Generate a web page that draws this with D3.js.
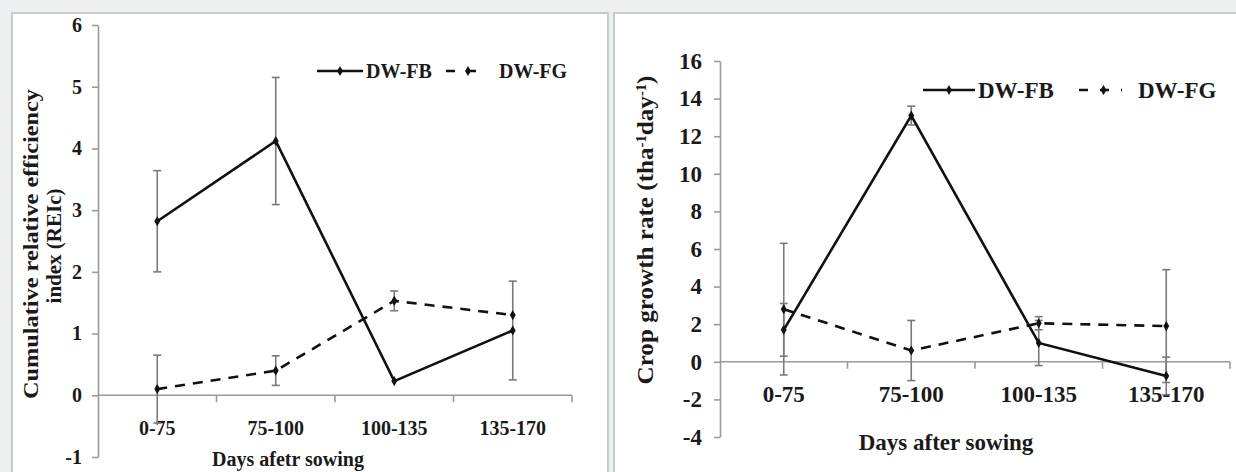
<!DOCTYPE html>
<html>
<head>
<meta charset="utf-8">
<script src="https://cdn.jsdelivr.net/npm/d3@7"></script>
<style>
  html, body { margin: 0; padding: 0; background: #edf0f3; }
  svg { display: block; }
  text { font-family: "Times New Roman", "Liberation Serif", serif; font-weight: bold; fill: #1a1a1a; }
</style>
</head>
<body>
<svg id="chart" width="1236" height="472"></svg>
<script>
// categories (days after sowing)
const categories = ["0-75", "75-100", "100-135", "135-170"];

// left panel: cumulative relative efficiency index
const reiFB = [2.82, 4.12, 0.23, 1.05];
const reiFBErr = [0.82, 1.03, 0, 0.80];
const reiFG = [0.10, 0.40, 1.53, 1.30];
const reiFGErr = [0.55, 0.24, 0.16, 0];
const reiTicks = [-1, 0, 1, 2, 3, 4, 5, 6];

// right panel: crop growth rate
const cgrFB = [1.7, 13.1, 1.0, -0.75];
const cgrFBErr = [1.4, 0.5, 1.2, 1.0];
const cgrFG = [2.8, 0.6, 2.05, 1.9];
const cgrFGErr = [3.5, 1.6, 0.35, 3.0];
const cgrTicks = [-4, -2, 0, 2, 4, 6, 8, 10, 12, 14, 16];

const svg = d3.select("#chart");

// white panels
svg.append("rect").attr("x", 12).attr("y", 13).attr("width", 596).attr("height", 475)
  .attr("fill", "#fff").attr("stroke", "#c9cacc").attr("stroke-width", 2);
svg.append("rect").attr("x", 614).attr("y", 13).attr("width", 630).attr("height", 475)
  .attr("fill", "#fff").attr("stroke", "#c9cacc").attr("stroke-width", 2);

function drawPanel(o) {
  const g = svg.append("g");
  const x = d3.scaleBand().domain(categories).range(o.xRange);
  const y = d3.scaleLinear().domain(o.yDomain).range(o.yRange);
  const cx = d => x(d) + x.bandwidth() / 2;
  const fs = o.fontSize;

  // y axis
  const yAxis = g.append("g")
    .attr("transform", `translate(${o.xRange[0]},0)`)
    .call(d3.axisLeft(y).tickValues(o.ticks).tickFormat(d => String(d))
      .tickSize(6).tickSizeOuter(0).tickPadding(o.tickPad));
  yAxis.attr("font-family", null).attr("font-size", null);
  yAxis.select(".domain").attr("stroke", "#9a9a9a").attr("stroke-width", 1.6);
  yAxis.selectAll(".tick line").attr("stroke", "#9a9a9a").attr("stroke-width", 1.6);
  yAxis.selectAll(".tick text").attr("font-size", fs).attr("fill", "#1a1a1a");

  // x axis along zero
  const y0 = y(0);
  g.append("line").attr("x1", o.xRange[0]).attr("x2", o.xRange[1])
    .attr("y1", y0).attr("y2", y0).attr("stroke", "#9a9a9a").attr("stroke-width", 1.6);
  g.selectAll(".edge").data(categories).join("line")
    .attr("x1", d => x(d) + x.bandwidth()).attr("x2", d => x(d) + x.bandwidth())
    .attr("y1", y0).attr("y2", y0 + 7).attr("stroke", "#9a9a9a").attr("stroke-width", 1.6);
  g.selectAll(".cat").data(categories).join("text")
    .attr("x", cx).attr("y", y0 + o.labelOff)
    .attr("text-anchor", "middle").attr("font-size", fs).text(d => d);

  // error bars
  const errs = [[o.fb, o.fbErr], [o.fg, o.fgErr]];
  errs.forEach(([vals, err]) => {
    categories.forEach((c, i) => {
      if (!err[i]) return;
      const ya = y(vals[i] + err[i]), yb = y(vals[i] - err[i]), xc = cx(c);
      const eg = g.append("g").attr("stroke", "#7a7a7a").attr("stroke-width", 1.6);
      eg.append("line").attr("x1", xc).attr("x2", xc).attr("y1", ya).attr("y2", yb);
      eg.append("line").attr("x1", xc - 4).attr("x2", xc + 4).attr("y1", ya).attr("y2", ya);
      eg.append("line").attr("x1", xc - 4).attr("x2", xc + 4).attr("y1", yb).attr("y2", yb);
    });
  });

  // series lines
  const line = d3.line().x((d, i) => cx(categories[i])).y(d => y(d));
  g.append("path").datum(o.fg).attr("d", line).attr("fill", "none")
    .attr("stroke", "#111").attr("stroke-width", 2.6).attr("stroke-dasharray", "10,8");
  g.append("path").datum(o.fb).attr("d", line).attr("fill", "none")
    .attr("stroke", "#111").attr("stroke-width", 2.6);
  const diamond = d3.symbol().type(d3.symbolDiamond).size(30);
  [o.fb, o.fg].forEach(vals => {
    g.selectAll(null).data(vals).join("path")
      .attr("d", diamond)
      .attr("transform", (d, i) => `translate(${cx(categories[i])},${y(d)})`)
      .attr("fill", "#111");
  });

  // legend
  const L = o.legend;
  g.append("line").attr("x1", L.fbX0).attr("x2", L.fbX1).attr("y1", L.y).attr("y2", L.y)
    .attr("stroke", "#111").attr("stroke-width", 2.6);
  g.append("path").attr("d", diamond).attr("transform", `translate(${(L.fbX0 + L.fbX1) / 2},${L.y})`).attr("fill", "#111");
  g.append("text").attr("x", L.fbX1 + 3).attr("y", L.y + fs * 0.33).attr("font-size", fs).text("DW-FB");
  g.append("line").attr("x1", L.fgX0).attr("x2", L.fgX1).attr("y1", L.y).attr("y2", L.y)
    .attr("stroke", "#111").attr("stroke-width", 2.6).attr("stroke-dasharray", "9,12");
  g.append("path").attr("d", diamond).attr("transform", `translate(${(L.fgX0 + L.fgX1) / 2 + 3},${L.y})`).attr("fill", "#111");
  g.append("text").attr("x", L.fgText).attr("y", L.y + fs * 0.33).attr("font-size", fs).text("DW-FG");

  // x title
  g.append("text").attr("x", o.xTitle[0]).attr("y", o.xTitle[1])
    .attr("text-anchor", "middle").attr("font-size", fs).text(o.xTitleText);

  return g;
}

drawPanel({
  xRange: [98, 572], yDomain: [-1, 6], yRange: [457, 25], ticks: reiTicks,
  fontSize: 20, tickPad: 10, labelOff: 40,
  fb: reiFB, fbErr: reiFBErr, fg: reiFG, fgErr: reiFGErr,
  legend: { y: 71, fbX0: 317, fbX1: 363, fgX0: 446, fgX1: 484, fgText: 499 },
  xTitle: [288, 466], xTitleText: "Days afetr sowing"
});

drawPanel({
  xRange: [720, 1230], yDomain: [-4, 16], yRange: [437, 61], ticks: cgrTicks,
  fontSize: 23, tickPad: 12, labelOff: 40,
  fb: cgrFB, fbErr: cgrFBErr, fg: cgrFG, fgErr: cgrFGErr,
  legend: { y: 90, fbX0: 923, fbX1: 975, fgX0: 1079, fgX1: 1122, fgText: 1138 },
  xTitle: [946, 450], xTitleText: "Days after sowing"
});

// y titles (rotated)
svg.append("text").attr("transform", "translate(38,244) rotate(-90)")
  .attr("text-anchor", "middle").attr("font-size", 21).attr("textLength", 310).attr("lengthAdjust", "spacingAndGlyphs")
  .text("Cumulative relative efficiency");
svg.append("text").attr("transform", "translate(61,246) rotate(-90)")
  .attr("text-anchor", "middle").attr("font-size", 21)
  .text("index (REIc)");

const rt = svg.append("text").attr("transform", "translate(653,230) rotate(-90)")
  .attr("text-anchor", "middle").attr("font-size", 24).attr("textLength", 309).attr("lengthAdjust", "spacingAndGlyphs");
rt.append("tspan").text("Crop growth rate  (tha");
rt.append("tspan").attr("baseline-shift", "super").attr("font-size", 14).text("-1");
rt.append("tspan").text("day");
rt.append("tspan").attr("baseline-shift", "super").attr("font-size", 14).text("-1");
rt.append("tspan").text(")");
</script>
</body>
</html>
